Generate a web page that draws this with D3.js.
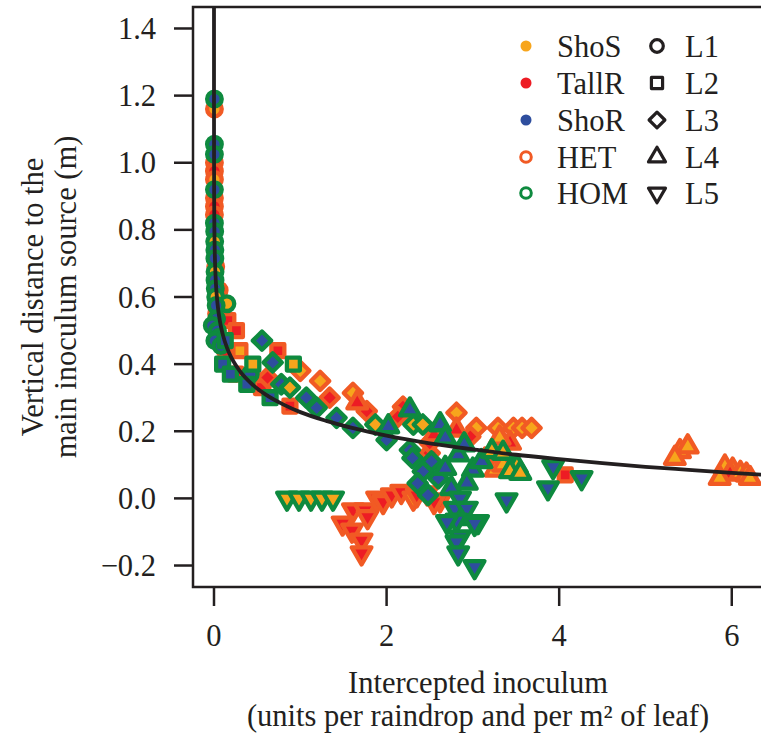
<!DOCTYPE html>
<html>
<head>
<meta charset="utf-8">
<style>
body { margin: 0; background: #fff; }
text { font-family: "Liberation Serif", "Times New Roman", serif; fill: #231f20; font-size: 30.5px; }
</style>
</head>
<body>
<script src="https://cdn.jsdelivr.net/npm/d3@7"></script>
<script>

// genotype -> fill, mixture -> border, layer -> shape
var genotypes = ["ShoS", "TallR", "ShoR"];
var genoColors = ["#f7a51c", "#ed1c24", "#2e4e9e"];
var mixtures = ["HET", "HOM"];
var mixColors = ["#f15a24", "#0e8a3f"];
var layers = ["L1", "L2", "L3", "L4", "L5"];
var shapes = ["circle", "square", "diamond", "up", "down"];

var xTicks = [0, 2, 4, 6];
var yTicks = [-0.2, 0.0, 0.2, 0.4, 0.6, 0.8, 1.0, 1.2, 1.4];

// [intercepted inoculum, vertical distance, genotype, mixture]
var layer1 = [
  [0.005, 1.19, "ShoR", "HOM"], [0.005, 1.16, "ShoS", "HET"], [0.005, 1.055, "ShoR", "HOM"],
  [0.005, 1.025, "ShoR", "HOM"], [0.005, 1.0, "TallR", "HET"], [0.005, 0.975, "TallR", "HET"],
  [0.005, 0.95, "ShoS", "HET"], [0.005, 0.92, "ShoR", "HOM"], [0.005, 0.895, "TallR", "HET"],
  [0.005, 0.87, "TallR", "HET"], [0.005, 0.845, "TallR", "HET"], [0.005, 0.82, "ShoR", "HOM"],
  [0.008, 0.795, "ShoR", "HOM"], [0.008, 0.765, "ShoS", "HOM"], [0.01, 0.74, "ShoR", "HOM"],
  [0.01, 0.715, "ShoR", "HOM"], [0.02, 0.69, "TallR", "HET"], [0.012, 0.675, "ShoS", "HOM"],
  [0.012, 0.65, "ShoR", "HOM"], [0.015, 0.625, "ShoR", "HOM"], [0.06, 0.62, "TallR", "HET"],
  [0.02, 0.60, "ShoS", "HOM"], [0.15, 0.58, "ShoS", "HOM"], [0.025, 0.575, "ShoR", "HOM"],
  [0.03, 0.55, "TallR", "HET"], [0.03, 0.535, "ShoR", "HOM"], [-0.02, 0.515, "ShoR", "HOM"],
  [0.04, 0.50, "ShoR", "HOM"], [0.06, 0.48, "ShoS", "HOM"], [0.01, 0.47, "ShoR", "HOM"],
  [0.08, 0.455, "ShoR", "HOM"], [0.13, 0.44, "TallR", "HET"], [0.42, 0.37, "ShoR", "HOM"]
];

var layer2 = [
  [0.16, 0.53, "TallR", "HET"], [0.26, 0.50, "TallR", "HET"], [0.30, 0.44, "ShoS", "HET"],
  [0.74, 0.44, "TallR", "HET"], [0.57, 0.35, "TallR", "HET"], [0.25, 0.37, "TallR", "HET"],
  [0.55, 0.33, "TallR", "HET"], [0.88, 0.275, "TallR", "HET"], [4.07, 0.07, "TallR", "HET"],
  [0.13, 0.47, "ShoR", "HOM"], [0.45, 0.40, "ShoS", "HOM"], [0.92, 0.40, "ShoS", "HOM"],
  [0.10, 0.40, "ShoR", "HOM"], [0.19, 0.37, "ShoR", "HOM"], [0.38, 0.34, "ShoR", "HOM"],
  [0.65, 0.30, "ShoR", "HOM"]
];

var layer3 = [
  [1.0, 0.38, "ShoS", "HET"], [1.23, 0.35, "ShoS", "HET"], [1.34, 0.30, "TallR", "HET"],
  [1.61, 0.314, "ShoS", "HET"], [1.77, 0.26, "TallR", "HET"], [2.19, 0.273, "TallR", "HET"],
  [2.13, 0.243, "TallR", "HET"], [2.50, 0.135, "TallR", "HET"], [2.50, 0.165, "TallR", "HET"],
  [2.81, 0.255, "ShoS", "HET"], [3.04, 0.21, "ShoS", "HET"], [3.29, 0.21, "ShoS", "HET"],
  [3.47, 0.21, "ShoS", "HET"], [3.57, 0.21, "ShoS", "HET"], [3.68, 0.21, "ShoS", "HET"],
  [2.97, 0.184, "TallR", "HET"], [0.62, 0.36, "TallR", "HET"],
  [0.556, 0.47, "ShoR", "HOM"], [0.68, 0.405, "ShoR", "HOM"], [0.78, 0.34, "ShoR", "HOM"],
  [0.88, 0.33, "ShoS", "HOM"], [1.07, 0.30, "ShoR", "HOM"], [1.19, 0.27, "ShoR", "HOM"],
  [1.42, 0.24, "ShoR", "HOM"], [1.61, 0.21, "ShoR", "HOM"], [1.87, 0.22, "ShoS", "HOM"],
  [2.0, 0.174, "ShoR", "HOM"], [2.31, 0.22, "ShoS", "HOM"], [2.42, 0.22, "ShoS", "HOM"],
  [2.27, 0.144, "ShoR", "HOM"], [2.52, 0.11, "ShoR", "HOM"], [2.42, 0.08, "ShoR", "HOM"],
  [2.36, 0.045, "ShoR", "HOM"], [2.48, 0.01, "ShoR", "HOM"], [2.60, 0.06, "ShoR", "HOM"],
  [2.30, 0.12, "ShoR", "HOM"]
];

var layer4 = [
  [1.66, 0.285, "TallR", "HET"], [2.81, 0.204, "TallR", "HET"], [3.43, 0.165, "TallR", "HET"],
  [3.31, 0.18, "ShoS", "HET"], [3.14, 0.115, "ShoS", "HET"], [3.26, 0.085, "ShoS", "HET"],
  [2.55, 0.19, "TallR", "HET"], [3.35, 0.10, "ShoS", "HET"],
  [5.40, 0.14, "ShoS", "HET"], [5.49, 0.154, "ShoS", "HET"], [5.34, 0.12, "ShoS", "HET"],
  [5.92, 0.094, "ShoS", "HET"], [6.01, 0.085, "ShoS", "HET"], [5.98, 0.073, "TallR", "HET"],
  [6.10, 0.075, "ShoS", "HET"], [6.17, 0.07, "ShoS", "HET"], [5.86, 0.06, "ShoS", "HET"],
  [6.21, 0.06, "ShoS", "HET"],
  [2.27, 0.264, "ShoR", "HOM"], [2.02, 0.214, "ShoR", "HOM"], [2.62, 0.22, "ShoR", "HOM"],
  [2.68, 0.18, "ShoR", "HOM"], [2.83, 0.13, "ShoR", "HOM"], [2.68, 0.09, "ShoR", "HOM"],
  [3.0, 0.085, "ShoR", "HOM"], [2.93, 0.046, "ShoR", "HOM"], [2.85, -0.06, "ShoR", "HOM"],
  [2.75, 0.03, "ShoR", "HOM"], [3.10, 0.11, "ShoR", "HOM"], [2.90, 0.16, "ShoR", "HOM"],
  [3.22, 0.14, "ShoS", "HOM"], [3.35, 0.135, "ShoS", "HOM"], [3.51, 0.095, "ShoS", "HOM"],
  [3.43, 0.08, "ShoS", "HOM"], [3.55, 0.075, "ShoS", "HOM"]
];

var layer5 = [
  [1.61, -0.035, "TallR", "HET"], [1.75, -0.035, "TallR", "HET"], [1.49, -0.074, "TallR", "HET"],
  [1.60, -0.095, "TallR", "HET"], [1.71, -0.125, "TallR", "HET"], [1.71, -0.163, "TallR", "HET"],
  [1.78, -0.055, "TallR", "HET"], [1.89, 0.0, "TallR", "HET"], [1.96, -0.01, "TallR", "HET"],
  [2.06, 0.01, "TallR", "HET"], [2.17, 0.02, "TallR", "HET"], [2.31, 0.0, "ShoS", "HET"],
  [2.47, 0.016, "TallR", "HET"], [2.62, -0.005, "TallR", "HET"], [2.35, 0.01, "TallR", "HET"],
  [2.55, -0.01, "TallR", "HET"],
  [0.846, 0.0, "ShoS", "HOM"], [0.985, 0.0, "ShoS", "HOM"], [1.124, 0.0, "ShoS", "HOM"],
  [1.251, 0.0, "ShoS", "HOM"], [1.379, 0.0, "ShoS", "HOM"],
  [2.85, 0.0, "ShoR", "HOM"], [2.79, -0.03, "ShoR", "HOM"], [2.93, -0.03, "ShoR", "HOM"],
  [2.81, -0.065, "ShoR", "HOM"], [2.70, -0.07, "ShoR", "HOM"], [3.06, -0.07, "ShoR", "HOM"],
  [3.02, -0.075, "ShoR", "HOM"], [2.85, -0.115, "ShoR", "HOM"], [2.81, -0.13, "ShoR", "HOM"],
  [2.83, -0.163, "ShoR", "HOM"], [3.02, -0.204, "ShoR", "HOM"], [3.39, -0.005, "ShoR", "HOM"],
  [3.87, 0.031, "ShoR", "HOM"], [3.93, 0.094, "ShoR", "HOM"], [4.26, 0.061, "ShoR", "HOM"]
];

// fitted curve
var fitX = [0.000006, 0.00002, 0.0001, 0.0005, 0.002, 0.005, 0.01, 0.02, 0.04, 0.07, 0.1, 0.15,
            0.2, 0.3, 0.45, 0.6, 0.8, 1.0, 1.3, 1.6, 2.0, 2.5, 3.0, 3.5, 4.0, 4.5, 5.0, 5.5, 6.0, 6.4];
var fitY = [1.471, 1.350, 1.187, 1.025, 0.885, 0.792, 0.722, 0.652, 0.582, 0.526, 0.490, 0.449,
            0.420, 0.379, 0.338, 0.309, 0.280, 0.257, 0.231, 0.210, 0.187, 0.164, 0.146, 0.130,
            0.117, 0.105, 0.094, 0.085, 0.076, 0.070];

var width = 761, height = 738;
var pLeft = 193, pRight = 765, pTop = 7, pBottom = 587;
var ink = "#231f20";

var svg = d3.select("body").append("svg")
    .attr("width", width)
    .attr("height", height);

var x = d3.scaleLinear().domain([-0.2433, 6.385]).range([pLeft, pRight]);
var y = d3.scaleLinear().domain([-0.264, 1.464]).range([pBottom, pTop]);

svg.append("clipPath").attr("id", "plotclip")
  .append("rect")
    .attr("x", pLeft).attr("y", pTop)
    .attr("width", pRight - pLeft).attr("height", pBottom - pTop);

// R style symbols (pch 21-25), R = circle radius
function symbol(shape, R) {
  var p = d3.path();
  if (shape == "circle") {
    p.arc(0, 0, R, 0, 2 * Math.PI);
  } else if (shape == "square") {
    var s = R * 0.886;
    p.rect(-s, -s, 2 * s, 2 * s);
  } else if (shape == "diamond") {
    var d = R * 1.2533;
    p.moveTo(0, -d); p.lineTo(d, 0); p.lineTo(0, d); p.lineTo(-d, 0); p.closePath();
  } else {
    var r = R * 1.555, xc = R * 1.347, yc = R * 0.778;
    var sg = shape == "up" ? 1 : -1;
    p.moveTo(0, -sg * r); p.lineTo(xc, sg * yc); p.lineTo(-xc, sg * yc); p.closePath();
  }
  return p.toString();
}

var points = [];
[layer1, layer2, layer3, layer4, layer5].forEach(function(arr, i) {
  arr.forEach(function(d) {
    points.push({x: d[0], y: d[1], geno: d[2], mix: d[3], shape: shapes[i]});
  });
});
// heterogeneous mixtures first, homogeneous on top
points.sort(function(a, b) { return mixtures.indexOf(a.mix) - mixtures.indexOf(b.mix); });

var plot = svg.append("g").attr("clip-path", "url(#plotclip)");

plot.selectAll("path.pt")
    .data(points)
    .enter().append("path")
    .attr("class", "pt")
    .attr("d", function(d) { return symbol(d.shape, 7.3); })
    .attr("transform", function(d) { return "translate(" + x(d.x) + "," + y(d.y) + ")"; })
    .style("fill", function(d) { return genoColors[genotypes.indexOf(d.geno)]; })
    .style("stroke", function(d) { return mixColors[mixtures.indexOf(d.mix)]; })
    .style("stroke-width", 4.3)
    .style("stroke-linejoin", "round");

var line = d3.line()
    .x(function(d) { return x(d[0]); })
    .y(function(d) { return y(d[1]); })
    .curve(d3.curveMonotoneX);

plot.append("path")
    .datum(fitX.map(function(v, i) { return [v, fitY[i]]; }))
    .attr("d", line)
    .style("fill", "none")
    .style("stroke", ink)
    .style("stroke-width", 3.8);

// box
svg.append("rect")
    .attr("x", pLeft).attr("y", pTop)
    .attr("width", pRight - pLeft).attr("height", pBottom - pTop)
    .style("fill", "none").style("stroke", ink).style("stroke-width", 2.5);

// axes
var yAxis = svg.append("g");
yAxis.selectAll("line").data(yTicks).enter().append("line")
    .attr("x1", pLeft).attr("x2", pLeft - 19)
    .attr("y1", function(d) { return y(d); }).attr("y2", function(d) { return y(d); })
    .style("stroke", ink).style("stroke-width", 2.5);
yAxis.selectAll("text").data(yTicks).enter().append("text")
    .attr("x", 156)
    .attr("y", function(d) { return y(d) + 10.5; })
    .attr("text-anchor", "end")
    .text(function(d) { return d3.format(".1f")(d).replace("-", "\u2212"); });

var xAxis = svg.append("g");
xAxis.selectAll("line").data(xTicks).enter().append("line")
    .attr("x1", function(d) { return x(d); }).attr("x2", function(d) { return x(d); })
    .attr("y1", pBottom).attr("y2", pBottom + 19)
    .style("stroke", ink).style("stroke-width", 2.5);
xAxis.selectAll("text").data(xTicks).enter().append("text")
    .attr("x", function(d) { return x(d); })
    .attr("y", 646)
    .attr("text-anchor", "middle")
    .text(function(d) { return d; });

// axis titles
var cx = (pLeft + pRight) / 2 - 1;
svg.append("text").attr("x", cx).attr("y", 693).attr("text-anchor", "middle")
    .text("Intercepted inoculum");
svg.append("text").attr("x", cx).attr("y", 726).attr("text-anchor", "middle")
    .text("(units per raindrop and per m\u00b2 of leaf)");

var cy = (pTop + pBottom) / 2;
svg.append("text").attr("transform", "translate(43," + cy + ") rotate(-90)")
    .attr("text-anchor", "middle").text("Vertical distance to the");
svg.append("text").attr("transform", "translate(76," + cy + ") rotate(-90)")
    .attr("text-anchor", "middle").text("main inoculum source (m)");

// legend
var rowY = [46, 83, 120, 157, 193];
var leg1 = genotypes.concat(mixtures);
var leg = svg.append("g");
leg1.forEach(function(name, i) {
  if (i < 3) {
    leg.append("circle").attr("cx", 526).attr("cy", rowY[i]).attr("r", 5.5)
        .style("fill", genoColors[i]);
  } else {
    leg.append("circle").attr("cx", 526).attr("cy", rowY[i]).attr("r", 5.3)
        .style("fill", "none").style("stroke", mixColors[i - 3]).style("stroke-width", 3);
  }
  leg.append("text").attr("x", 557).attr("y", rowY[i] + 11).text(name);
});
layers.forEach(function(name, i) {
  leg.append("path")
      .attr("d", symbol(shapes[i], 6.3))
      .attr("transform", "translate(657," + rowY[i] + ")")
      .style("fill", "none").style("stroke", ink).style("stroke-width", 3.2)
      .style("stroke-linejoin", "round");
  leg.append("text").attr("x", 685).attr("y", rowY[i] + 11).text(name);
});

</script>
</body>
</html>
